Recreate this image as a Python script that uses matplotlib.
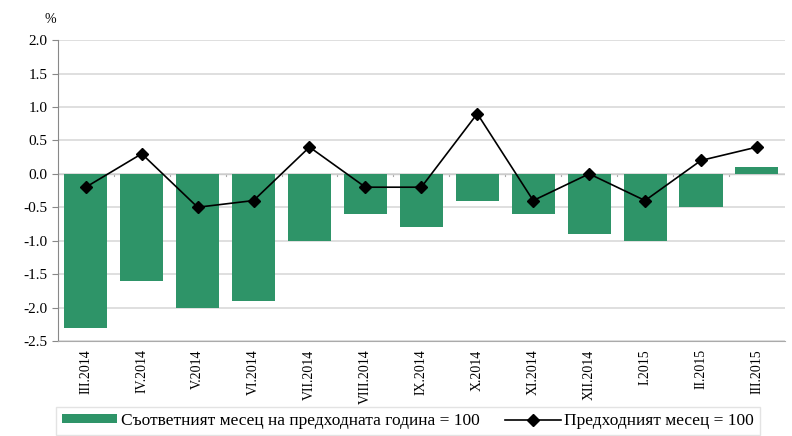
import numpy as np
import matplotlib
matplotlib.use('Agg')
from matplotlib import pyplot

months = ['III.2014', 'IV.2014', 'V.2014', 'VI.2014', 'VII.2014', 'VIII.2014', 'IX.2014',
          'X.2014', 'XI.2014', 'XII.2014', 'I.2015', 'II.2015', 'III.2015']
year_ago = [-2.3, -1.6, -2.0, -1.9, -1.0, -0.6, -0.8, -0.4, -0.6, -0.9, -1.0, -0.5, 0.1]
prev_month = [-0.2, 0.3, -0.5, -0.4, 0.4, -0.2, -0.2, 0.9, -0.4, 0.0, -0.4, 0.2, 0.4]

label_bars = 'Съответният месец на предходната година = 100'
label_line = 'Предходният месец = 100'

pyplot.rcParams['font.family'] = ['Liberation Serif', 'DejaVu Serif']

fig = pyplot.figure(figsize=(7.92, 4.36), dpi=100)
axs = fig.add_axes([0.073, 0.218, 0.918, 0.69])

x = np.arange(len(months))
bars = axs.bar(x, year_ago, width=0.77, color='#2e9468', label=label_bars, zorder=2)
line, = axs.plot(x, prev_month, color='black', lw=1.2, marker='D', markersize=6,
                 label=label_line, zorder=3)

axs.set_xlim(-0.5, len(months) - 0.5)
axs.set_ylim(-2.5, 2.0)
axs.set_yticks(np.arange(-2.5, 2.01, 0.5))
axs.set_yticklabels([f'{v:.1f}' for v in np.arange(-2.5, 2.01, 0.5)], fontsize=11)
axs.yaxis.grid(True, color='#d9d9d9', lw=1.2, zorder=0)
axs.set_axisbelow(True)

axs.set_xticks(x)
axs.set_xticklabels(months, rotation=90, fontsize=10)
axs.tick_params(axis='x', length=0, pad=6)
axs.tick_params(axis='y', length=4, color='#888888')

# small category-boundary ticks along the zero line
for b in np.arange(0.5, len(months) - 0.5, 1):
    axs.plot([b, b], [0, -0.04], color='#aaaaaa', lw=0.8, zorder=1)
axs.axhline(0, color='#cccccc', lw=1, zorder=1)

for side in ['top', 'right']:
    axs.spines[side].set_visible(False)
axs.spines['left'].set_color('#888888')
axs.spines['bottom'].set_color('#aaaaaa')

fig.text(0.063, 0.955, '%', fontsize=10, ha='center', va='center')

leg = fig.legend([bars, line], [label_bars, label_line], loc='lower center',
                 bbox_to_anchor=(0.515, -0.01), ncol=2, fontsize=12.5,
                 frameon=True, fancybox=False, edgecolor='#dddddd', handlelength=3.2,
                 handleheight=0.4, columnspacing=1.5, handletextpad=0.2, borderpad=0.35,
                 borderaxespad=0.3)
leg.get_frame().set_linewidth(1.0)

fig.savefig('out.png', dpi=100)
pyplot.close()
